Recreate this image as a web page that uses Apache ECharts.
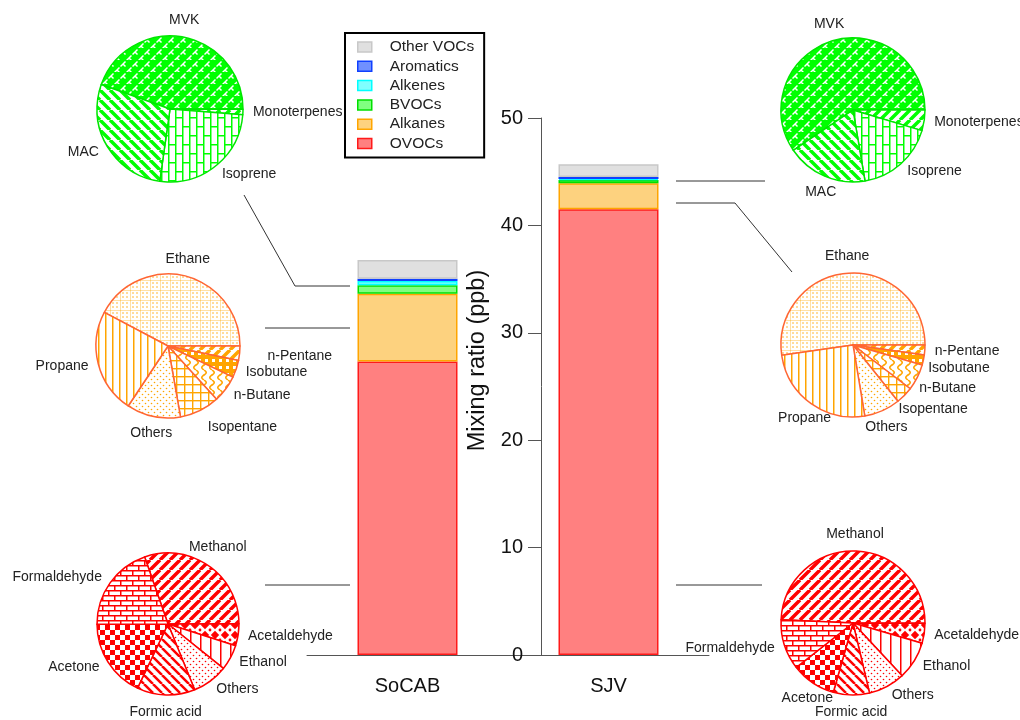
<!DOCTYPE html>
<html><head><meta charset="utf-8">
<script src="https://cdn.jsdelivr.net/npm/echarts@6/dist/echarts.min.js"></script>
<style>html,body{margin:0;padding:0;background:#fff}#c{width:1020px;height:720px}</style>
</head><body><div id="c"></div>
<script>
// ---------- data ----------
const categories = ['SoCAB', 'SJV'];
const ovocs     = [27.33, 41.5];
const alkanes   = [6.31, 2.42];
const bvocs     = [0.78, 0.30];
const alkenes   = [0.40, 0.10];
const aromatics = [0.22, 0.18];
const otherVocs = [1.74, 1.20];
const yTicks = [0, 10, 20, 30, 40, 50];

const bvocNames  = ['MVK', 'Monoterpenes', 'Isoprene', 'MAC'];
const bvocSoCAB  = [44.6, 1.2, 26.0, 28.2];
const bvocSJV    = [59.4, 4.6, 17.7, 18.2];
const alkaneNames = ['Ethane', 'n-Pentane', 'Isobutane', 'n-Butane', 'Isopentane', 'Others', 'Propane'];
const alkaneSoCAB = [42.3, 3.2, 3.9, 6.1, 9.0, 12.1, 23.4];
const alkaneSJV   = [52.3, 2.2, 2.3, 5.9, 3.9, 8.1, 25.4];
const ovocNames  = ['Methanol', 'Acetaldehyde', 'Ethanol', 'Others', 'Formic acid', 'Acetone', 'Formaldehyde'];
const ovocSoCAB  = [30.3, 5.0, 5.8, 8.1, 13.2, 17.9, 19.7];
const ovocSJV    = [49.3, 4.5, 8.5, 8.25, 8.1, 10.0, 11.3];

// ---------- patterns ----------
function tile(w, h, bg, draw) {
  const c = document.createElement('canvas'); c.width = w; c.height = h;
  const g = c.getContext('2d'); g.fillStyle = bg; g.fillRect(0, 0, w, h); draw(g, w, h);
  return { image: c, repeat: 'repeat' };
}
const pat = {
  diagUp: (col, s, lw) => tile(s, s, '#fff', g => { g.strokeStyle = col; g.lineWidth = lw; g.beginPath();
    for (const k of [-s, 0, s]) { g.moveTo(k, s); g.lineTo(k + s, 0); } g.stroke(); }),
  diagDown: (col, s, lw) => tile(s, s, '#fff', g => { g.strokeStyle = col; g.lineWidth = lw; g.beginPath();
    for (const k of [-s, 0, s]) { g.moveTo(k, 0); g.lineTo(k + s, s); } g.stroke(); }),
  vlines: (col, s, lw) => tile(s, s, '#fff', g => { g.fillStyle = col; g.fillRect(0, 0, lw, s); }),
  grid: (col, s, lw) => tile(s, s, '#fff', g => { g.fillStyle = col; g.fillRect(0, 0, lw, s); g.fillRect(0, 0, s, lw); }),
  dots: (col, s, r) => tile(s, s, '#fff', g => { g.fillStyle = col;
    [[s / 4, s / 4], [3 * s / 4, 3 * s / 4]].forEach(([x, y]) => { g.beginPath(); g.arc(x, y, r, 0, 7); g.fill(); }); }),
  dotGrid: (col) => tile(10, 10, '#fff', g => { g.fillStyle = 'rgba(255,165,0,0.35)'; g.fillRect(0, 0, 1, 10); g.fillRect(0, 0, 10, 1);
    g.fillStyle = col; [[3, 3], [7, 7], [3, 7], [7, 3]].forEach(([x, y]) => { g.beginPath(); g.arc(x, y, 0.75, 0, 7); g.fill(); }); }),
  squares: (col) => tile(7, 7, col, g => { g.fillStyle = '#fff'; g.fillRect(2, 2, 3, 3); }),
  wave: (col) => tile(8, 10, '#fff', g => { g.strokeStyle = col; g.lineWidth = 1.6; g.beginPath();
    for (let y = 0; y <= 10; y += 0.5) { const x = 4 + 2.2 * Math.sin(2 * Math.PI * y / 10); y === 0 ? g.moveTo(x, y) : g.lineTo(x, y); } g.stroke(); }),
  checker: (col) => tile(10, 10, '#fff', g => { g.fillStyle = col; g.fillRect(0, 0, 5, 5); g.fillRect(5, 5, 5, 5); }),
  diamonds: (col) => tile(10, 10, '#fff', g => { g.fillStyle = col; g.beginPath();
    g.moveTo(5, 0.8); g.lineTo(9.2, 5); g.lineTo(5, 9.2); g.lineTo(0.8, 5); g.closePath(); g.fill();
    [[0, 0], [10, 0], [0, 10], [10, 10]].forEach(([x, y]) => { g.beginPath(); g.arc(x, y, 1.4, 0, 7); g.fill(); }); }),
  brickH: (col) => tile(12, 10, '#fff', g => { g.fillStyle = col; g.fillRect(0, 0, 12, 1.5); g.fillRect(0, 5, 12, 1.5);
    g.fillRect(0, 0, 1.5, 5); g.fillRect(6, 5, 1.5, 5); }),
  brickV: (col) => tile(14, 18, '#fff', g => { g.fillStyle = col; g.fillRect(0, 0, 1.5, 18); g.fillRect(7, 0, 1.5, 18);
    g.fillRect(0, 0, 7, 1.5); g.fillRect(7, 9, 7, 1.5); }),
  weave: (col) => tile(12, 12, col, g => { g.strokeStyle = '#fff'; g.lineWidth = 1.5; g.beginPath();
    g.moveTo(0.5, 6.5); g.lineTo(5.5, 1.5); g.moveTo(3, 4); g.lineTo(5.5, 6.5);
    g.moveTo(6.5, 12.5); g.lineTo(11.5, 7.5); g.moveTo(9, 10); g.lineTo(11.5, 12.5); g.stroke(); })
};
const GREEN = '#00FF00', ORANGE = '#FFA500', RED = '#FF0000';
const patterns = {
  green: { 'MVK': pat.weave(GREEN), 'Monoterpenes': pat.diagUp(GREEN, 10, 3.5), 'Isoprene': pat.brickV(GREEN), 'MAC': pat.diagDown(GREEN, 10, 3.5) },
  orange: { 'Ethane': pat.dotGrid(ORANGE), 'n-Pentane': pat.diagUp(ORANGE, 10, 3.5), 'Isobutane': pat.squares(ORANGE),
    'n-Butane': pat.wave(ORANGE), 'Isopentane': pat.grid(ORANGE, 8, 1.4), 'Others': pat.dots(ORANGE, 6, 0.8), 'Propane': pat.vlines(ORANGE, 7, 1.5) },
  red: { 'Methanol': pat.diagUp(RED, 10, 3.5), 'Acetaldehyde': pat.diamonds(RED), 'Ethanol': pat.vlines(RED, 10, 1.5),
    'Others': pat.dots(RED, 6, 0.8), 'Formic acid': pat.diagDown(RED, 9, 2.5), 'Acetone': pat.checker(RED), 'Formaldehyde': pat.brickH(RED) }
};
const outline = { green: '#00E600', orange: '#FF6633', red: '#FF0000' };

// ---------- pie layout (positions only) ----------
const pies = [
  { names: bvocNames,   values: bvocSoCAB,   center: [170, 109], r: 73, start: 160.4, group: 'green', tweaks: {} },
  { names: alkaneNames, values: alkaneSoCAB, center: [168, 346], r: 72, start: 152.2, group: 'orange',
    tweaks: { 'n-Pentane': { extra: 18 }, 'Isopentane': { extra: 8 } } },
  { names: ovocNames,   values: ovocSoCAB,   center: [168, 624], r: 71, start: 109.2, group: 'red',
    tweaks: { 'Methanol': { align: 'center', va: 'bottom', extra: 5 } } },
  { names: bvocNames,   values: bvocSJV,     center: [853, 110], r: 72, start: 214.0, group: 'green', tweaks: {} },
  { names: alkaneNames, values: alkaneSJV,   center: [853, 345], r: 72, start: 188.1, group: 'orange',
    tweaks: { 'Propane': { align: 'center', va: 'top' }, 'Isobutane': { dx: -5, dy: 6 },
              'n-Butane': { dx: -7, dy: 6 }, 'Isopentane': { dx: -13, dy: 7 } } },
  { names: ovocNames,   values: ovocSJV,     center: [853, 623], r: 72, start: 177.4, group: 'red',
    tweaks: { 'Acetone': { align: 'center', va: 'top' } } }
];
const FONT = 'Liberation Sans, Arial, sans-serif';

function pieSeries(p) {
  const total = p.values.reduce((a, b) => a + b, 0);
  let cum = 0;
  const mids = p.values.map(v => { const m = (p.start - (cum + v / 2) / total * 360) * Math.PI / 180; cum += v; return m; });
  return {
    type: 'pie', center: p.center, radius: [0, p.r], startAngle: p.start, clockwise: true,
    avoidLabelOverlap: false, silent: true, z: 5,
    data: p.names.map((n, i) => ({ name: n, value: p.values[i],
      itemStyle: { color: patterns[p.group][n], borderColor: outline[p.group], borderWidth: 1.5 } })),
    label: { show: true, position: 'outside', color: '#222', fontSize: 14, fontFamily: FONT },
    labelLine: { show: false, length: 0, length2: 0 },
    labelLayout: function (prm) {
      const i = prm.dataIndex;
      const tw = p.tweaks[p.names[i]] || {};
      const m = mids[i]; const dx = Math.cos(m), dy = -Math.sin(m);
      const R = p.r + 10 + (tw.extra || 0);
      let align, va;
      if (Math.abs(dx) < 0.42) { align = 'center'; va = dy < 0 ? 'bottom' : 'top'; }
      else { align = dx > 0 ? 'left' : 'right'; va = 'middle'; }
      if (tw.align) align = tw.align;
      if (tw.va) va = tw.va;
      return { x: p.center[0] + R * dx + (tw.dx || 0), y: p.center[1] + R * dy + (tw.dy || 0), align: align, verticalAlign: va };
    }
  };
}

// ---------- bars ----------
const barDefs = [
  ['OVOCs', ovocs, '#FF8080', '#FF1A1A'],
  ['Alkanes', alkanes, '#FDD27F', '#FFA500'],
  ['BVOCs', bvocs, '#80FF80', '#00E000'],
  ['Alkenes', alkenes, '#80FFFF', '#00FFFF'],
  ['Aromatics', aromatics, '#7090FF', '#1040FF'],
  ['Other VOCs', otherVocs, '#E0E0E0', '#C8C8C8']
];
const barSeries = barDefs.map(([name, vals, fill, border]) => ({
  type: 'bar', name: name, stack: 'total', barWidth: 100, data: vals,
  itemStyle: { color: fill, borderColor: border, borderWidth: 1.5 }
}));

const lineStyle = { stroke: '#333', lineWidth: 1, fill: null };
const option = {
  animation: false,
  backgroundColor: '#fff',
  textStyle: { fontFamily: FONT },
  grid: { left: 307, right: 311, top: 118, bottom: 65, outerBoundsMode: 'none' },
  legend: {
    data: ['Other VOCs', 'Aromatics', 'Alkenes', 'BVOCs', 'Alkanes', 'OVOCs'],
    orient: 'vertical', left: 345, top: 33, icon: 'rect', itemWidth: 14, itemHeight: 10, itemGap: 3.3,
    padding: [6, 10, 6, 12], backgroundColor: '#fff', borderColor: '#000', borderWidth: 2, borderRadius: 0,
    textStyle: { fontSize: 15.5, color: '#222', fontFamily: FONT, padding: [0, 0, 0, 13] },
    itemStyle: { borderWidth: 1.5 }
  },
  xAxis: {
    type: 'category', data: categories,
    axisLine: { lineStyle: { color: '#555', width: 1 } },
    axisTick: { alignWithLabel: true, length: 13, lineStyle: { color: '#555' } },
    axisLabel: { fontSize: 20, color: '#111', margin: 21, fontFamily: FONT }
  },
  yAxis: {
    type: 'value', min: yTicks[0], max: yTicks[yTicks.length - 1], interval: yTicks[1] - yTicks[0],
    position: 'left', offset: -234,
    name: 'Mixing ratio (ppb)', nameLocation: 'middle', nameGap: 51, nameRotate: 90,
    nameTextStyle: { fontSize: 23.5, color: '#111', fontFamily: FONT, padding: [0, 0, 0, 52] },
    axisLine: { show: true, lineStyle: { color: '#555', width: 1 } },
    axisTick: { show: true, length: 13, lineStyle: { color: '#555' } },
    axisLabel: { fontSize: 20, color: '#111', margin: 18, fontFamily: FONT },
    splitLine: { show: false }
  },
  series: barSeries.concat(pies.map(pieSeries)),
  graphic: [
    { type: 'polyline', shape: { points: [[244, 195], [295, 286], [350, 286]] }, style: lineStyle },
    { type: 'polyline', shape: { points: [[265, 328], [350, 328]] }, style: lineStyle },
    { type: 'polyline', shape: { points: [[265, 585], [350, 585]] }, style: lineStyle },
    { type: 'polyline', shape: { points: [[676, 181], [765, 181]] }, style: lineStyle },
    { type: 'polyline', shape: { points: [[676, 203], [735, 203], [792, 272]] }, style: lineStyle },
    { type: 'polyline', shape: { points: [[676, 585], [762, 585]] }, style: lineStyle }
  ]
};
const chart = echarts.init(document.getElementById('c'), null, { renderer: 'canvas' });
chart.setOption(option);
</script>
</body></html>
